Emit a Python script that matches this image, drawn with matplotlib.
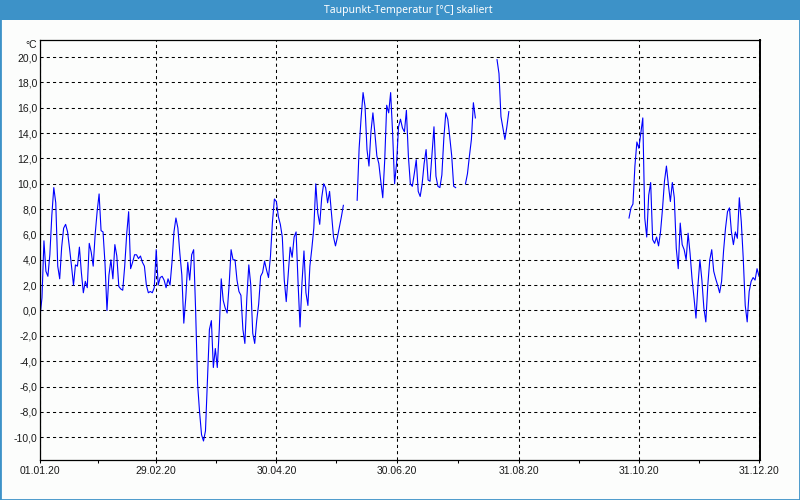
import numpy as np
import pandas as pd
import matplotlib.pyplot as plt
from matplotlib.patches import Rectangle
from matplotlib.ticker import FuncFormatter

title = "Taupunkt-Temperatur [°C] skaliert"
unit = "°C"

start_winter = "2020-01-01"
werte_winter = [
    -0.5, 1.0, 5.5, 3.1, 2.7, 4.4, 7.5, 9.7, 8.5, 3.5,
    2.5, 5.0, 6.5, 6.8, 6.2, 4.9, 3.5, 2.0, 3.6, 3.5,
    5.0, 3.0, 1.4, 2.3, 1.8, 5.3, 4.6, 3.5, 6.0, 7.8,
    9.2, 6.3, 6.2, 3.7, 0.0, 2.8, 4.0, 2.5, 5.2, 4.3,
    1.9, 1.7, 1.6, 3.5, 6.0, 7.8, 3.3, 3.8, 4.4, 4.4,
    4.1, 4.3, 3.8, 3.5, 2.0, 1.4, 1.5, 1.4, 1.8,
    4.8, 2.0, 2.6, 2.7, 2.4, 1.8, 2.5, 2.0, 3.8, 6.2,
    7.3, 6.5, 4.5, 2.8, -1.0, 1.0, 3.8, 2.4, 4.4, 4.8,
    0.0, -5.8, -8.0, -9.8, -10.3, -9.5, -5.5, -1.5, -0.8, -4.5,
    -3.0, -4.5, -1.5, 2.5, 0.8, 0.2, -0.2, 2.0, 4.8, 4.0,
    4.0, 2.4, 1.5, 1.2, -1.5, -2.6, 1.0, 3.6, 2.0, -1.8,
    -2.6, -0.8, 0.5, 2.7, 3.0, 3.9, 3.2, 2.6, 4.3, 7.0,
    8.8, 8.6, 7.4, 6.8, 5.8, 2.4, 0.7, 2.9, 5.0, 4.2,
    5.8, 6.2, 2.2, -1.3, 2.2, 4.7, 1.4, 0.4, 3.5, 4.9,
    6.5, 10.0, 7.7, 6.8, 8.9, 10.0, 9.7, 8.5, 9.4, 7.6,
    5.8, 5.1, 5.8, 6.6, 7.4, 8.3,
]

start_sommer = "2020-06-10"
werte_sommer = [
    8.7, 12.8, 15.2, 17.2, 16.1, 12.7, 11.4, 14.1, 15.6, 14.0,
    12.2, 11.6, 10.2, 8.9, 11.9, 16.2, 15.6, 17.2, 14.0, 10.0,
    11.6, 14.5, 15.1, 14.4, 14.1, 15.8, 12.2, 10.0, 9.8, 10.8,
    11.9, 9.4, 9.0, 10.0, 11.6, 12.7, 10.3, 10.2, 12.4, 14.5,
    10.6, 9.8, 9.7, 10.7, 13.6, 15.6, 15.1, 13.7, 12.2, 9.8,
    9.7,
]

start_aug1 = "2020-08-04"
werte_aug1 = [10.0, 10.8, 12.2, 13.5, 16.4, 15.2]

start_aug2 = "2020-08-20"
werte_aug2 = [19.8, 18.7, 15.3, 14.4, 13.5, 14.5, 15.7]

start_herbst = "2020-10-26"
werte_herbst = [
    7.3, 8.1, 8.4, 11.4, 13.3, 12.8, 14.0, 15.2, 7.3, 5.8,
    9.1, 10.1, 5.6, 5.3, 5.8, 5.1, 6.2, 8.0, 10.2, 11.4,
    9.9, 8.6, 10.1, 8.9, 4.9, 3.3, 6.9, 5.2, 4.8, 4.0,
    6.1, 4.5, 2.5, 1.0, -0.6, 2.0, 4.0, 2.4, 0.2, -0.9,
    2.0, 4.0, 4.8, 3.1, 2.5, 2.0, 1.4, 2.3, 4.7, 6.5,
    7.8, 8.1, 6.2, 5.2, 6.2, 5.7, 8.9, 7.0, 4.1, 0.4,
    -0.9, 1.5, 2.3, 2.6, 2.4, 3.3, 2.7,
]

tick_dates = ["2020-01-01", "2020-02-29", "2020-04-30", "2020-06-30",
              "2020-08-31", "2020-10-31", "2020-12-31"]
tick_labels = ["01.01.20", "29.02.20", "30.04.20", "30.06.20",
               "31.08.20", "31.10.20", "31.12.20"]
y_ticks = np.arange(-10, 21, 2)

blue = "#3d92c8"

segments = [(start_winter, werte_winter), (start_sommer, werte_sommer),
            (start_aug1, werte_aug1), (start_aug2, werte_aug2),
            (start_herbst, werte_herbst)]
parts = [pd.Series(v, index=pd.date_range(s, periods=len(v), freq="D")) for s, v in segments]
full_year = pd.date_range("2020-01-01", "2020-12-31", freq="D")
df = pd.concat(parts).reindex(full_year)

fig = plt.figure(figsize=(8, 5), dpi=100, facecolor="#fcfdfc")
ax = fig.add_axes([40 / 800, 40 / 500, 720 / 800, 420 / 500])
ax.set_facecolor("#fcfdfc")

ax.plot(df.index, df.values, color="#0000ff", lw=0.8)

ax.set_xlim(pd.Timestamp("2020-01-01"), pd.Timestamp("2020-12-31 12:00"))
ax.set_ylim(-11.8, 21.35)

ticks = pd.to_datetime(tick_dates)
ax.set_xticks(ticks)
ax.set_xticklabels(tick_labels)
minor = ticks[:-1] + (ticks[1:] - ticks[:-1]) / 2
ax.set_xticks(minor, minor=True)
ax.set_yticks(y_ticks)
ax.yaxis.set_major_formatter(FuncFormatter(lambda v, p: f"{v:.1f}".replace(".", ",")))

ax.grid(True, which="major", color="black", linestyle=(0, (3, 3)), lw=0.75)
ax.tick_params(axis="y", length=0, pad=2, labelsize=7.5, labelcolor="#1a1a1a")
ax.tick_params(axis="x", which="both", length=2.5, pad=2, labelsize=7.5,
               labelcolor="#1a1a1a", color="black", width=0.75)
for lab in ax.get_xticklabels() + ax.get_yticklabels():
    lab.set_family("Liberation Sans")
for sp in ax.spines.values():
    sp.set_color("black")
    sp.set_linewidth(0.9)
ax.spines["right"].set_linewidth(1.4)

fig.text(37 / 800, 1 - 45 / 500, unit, ha="right", va="center", fontsize=7.5,
         color="#1a1a1a", family="Liberation Sans")

# Titelleiste und Rahmen
fig.patches.append(Rectangle((0, 1 - 20 / 500), 1, 20 / 500, transform=fig.transFigure,
                             facecolor=blue, edgecolor="none"))
fig.patches.append(Rectangle((0, 0), 1, 1, transform=fig.transFigure, fill=False,
                             edgecolor=blue, lw=2))
fig.text(0.51, 1 - 10 / 500, title, color="white", ha="center", va="center",
         fontsize=7.5, fontweight="bold", family="Noto Sans")

fig.savefig("out.png", dpi=100, facecolor=fig.get_facecolor())
